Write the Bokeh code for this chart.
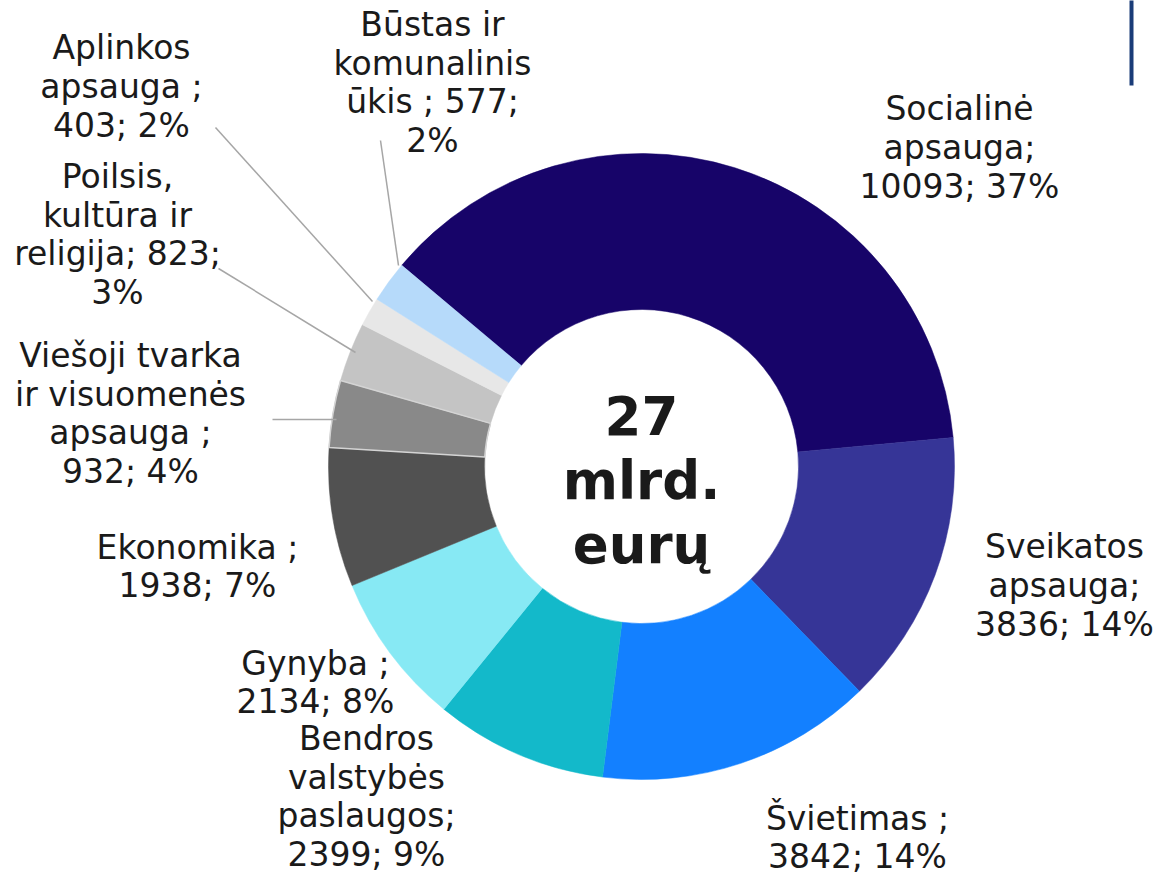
import math
from bokeh.plotting import figure
from bokeh.models import Range1d, ColumnDataSource
from bokeh.core.properties import value
from bokeh.embed import file_html
from bokeh.resources import INLINE

# ---------------- data ----------------
categories = [
    "Socialinė apsauga", "Sveikatos apsauga", "Švietimas",
    "Bendros valstybės paslaugos", "Gynyba", "Ekonomika",
    "Viešoji tvarka ir visuomenės apsauga", "Poilsis, kultūra ir religija",
    "Aplinkos apsauga", "Būstas ir komunalinis ūkis",
]
amounts = [10093, 3836, 3842, 2399, 2134, 1938, 932, 823, 403, 577]
percents = ["37%", "14%", "14%", "9%", "8%", "7%", "4%", "3%", "2%", "2%"]
label_templates = [
    "Socialinė\napsauga;\n{v}; {p}",
    "Sveikatos\napsauga;\n{v}; {p}",
    "Švietimas ;\n{v}; {p}",
    "Bendros\nvalstybės\npaslaugos;\n{v}; {p}",
    "Gynyba ;\n{v}; {p}",
    "Ekonomika ;\n{v}; {p}",
    "Viešoji tvarka\nir visuomenės\napsauga ;\n{v}; {p}",
    "Poilsis,\nkultūra ir\nreligija; {v};\n{p}",
    "Aplinkos\napsauga ;\n{v}; {p}",
    "Būstas ir\nkomunalinis\nūkis ; {v};\n{p}",
]
colors = ["#170469", "#363597", "#1380ff", "#13b9ca", "#87e9f4",
          "#515151", "#898989", "#c4c4c4", "#e7e7e7", "#b6dafa"]
center_text = "27\nmlrd.\neurų"

# ---------------- layout (screen px) ----------------
W, H = 1154, 879
cx, cy = 641, 466
r_out, r_in = 313, 157
first_slice_angle = -50.0  # degrees clockwise from 12 o'clock

label_pos = [(959, 147), (1064, 585), (857, 837), (366, 796), (315, 682),
             (197, 566), (130, 413), (117, 234), (121, 86), (432, 82)]
leaders = [  # (label end, slice end)
    ((215, 127), (372, 301)),
    ((380, 140), (398, 265)),
    ((218, 268), (355, 352)),
    ((272, 419), (336, 419)),
]

def Y(y):
    return H - y

total = sum(amounts)
starts, ends = [], []
acc = 0.0
for v in amounts:
    a0 = first_slice_angle + acc / total * 360.0
    a1 = first_slice_angle + (acc + v) / total * 360.0
    starts.append(math.radians(90.0 - a0))
    ends.append(math.radians(90.0 - a1))
    acc += v

wedges = ColumnDataSource(dict(
    x=[cx] * len(amounts), y=[Y(cy)] * len(amounts),
    start=starts, end=ends, color=colors, name=categories, amount=amounts,
))

p = figure(width=W, height=H, output_backend="svg",
           toolbar_location=None, x_axis_location=None, y_axis_location=None,
           x_range=Range1d(0, W), y_range=Range1d(0, H),
           min_border=0, outline_line_color=None, background_fill_color="white",
           border_fill_color="white")
p.grid.visible = False

p.annular_wedge(x="x", y="y", inner_radius=r_in, outer_radius=r_out,
                start_angle="start", end_angle="end", direction="clock",
                fill_color="color", line_color="color", line_width=0.5,
                source=wedges)
# light outline on the "Viešoji tvarka" slice as in the reference
i = 6
p.annular_wedge(x=[cx], y=[Y(cy)], inner_radius=r_in, outer_radius=r_out,
                start_angle=[starts[i]], end_angle=[ends[i]], direction="clock",
                fill_color=None, line_color="#d4d4d4", line_width=1.5)

# leader lines
for (x0, y0), (x1, y1) in leaders:
    p.line([x0, x1], [Y(y0), Y(y1)], line_color="#a6a6a6", line_width=1.5)

labels = ColumnDataSource(dict(
    x=[lp[0] for lp in label_pos],
    y=[Y(lp[1]) for lp in label_pos],
    text=[t.format(v=v, p=pc) for t, v, pc in zip(label_templates, amounts, percents)],
))
p.text(x="x", y="y", text="text", source=labels,
       text_font=value("DejaVu Sans"), text_font_size="33px",
       text_align="center", text_baseline="middle", text_line_height=0.99,
       text_color="#1a1a1a")

p.text(x=[cx], y=[Y(480)], text=[center_text],
       text_font=value("DejaVu Sans"), text_font_size="53px", text_font_style="bold",
       text_align="center", text_baseline="middle", text_line_height=1.045,
       text_color="#1a1a1a")

# decorative vertical bar top-right
p.line([1131, 1131], [Y(-5), Y(85)], line_color="#1a3c78", line_width=4)

open("out.html", "w").write(file_html(p, INLINE))
